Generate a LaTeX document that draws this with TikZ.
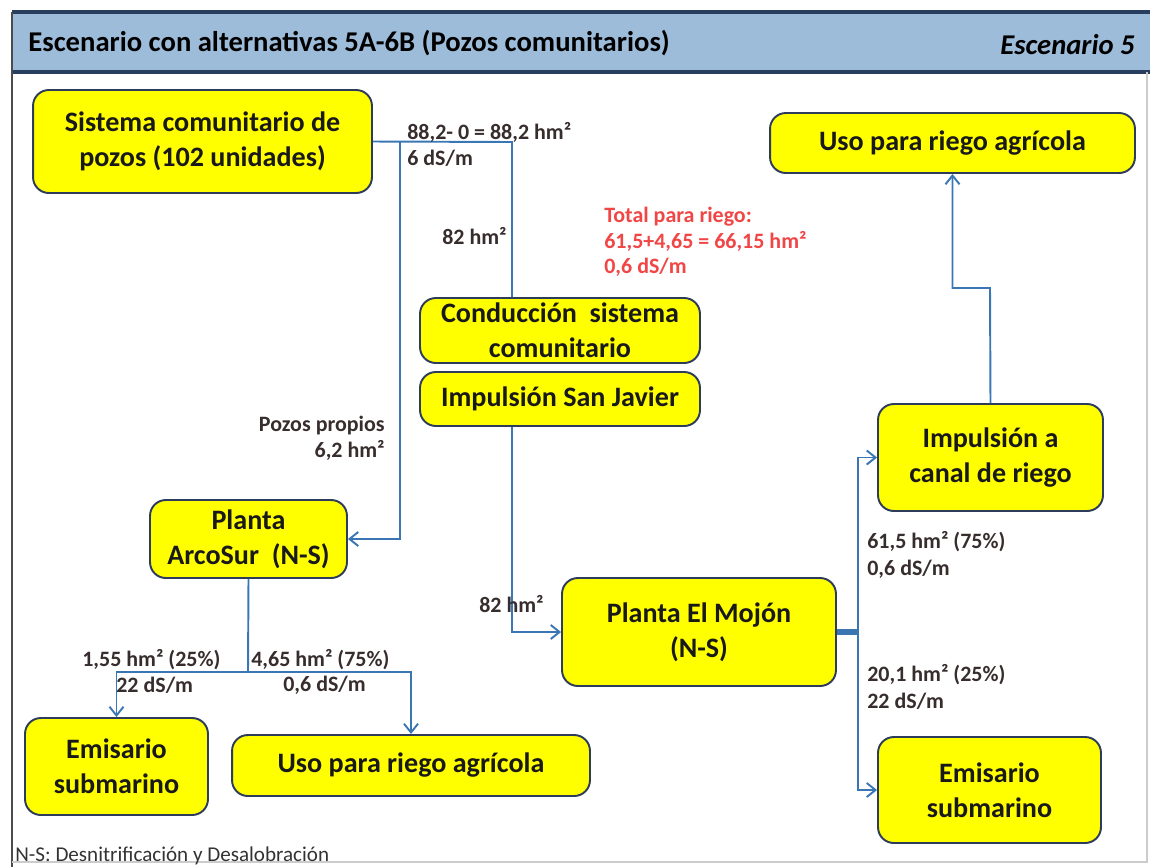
\documentclass[tikz,border=0pt]{standalone}
\usepackage{fontspec}
\setmainfont{Carlito}
\usetikzlibrary{arrows.meta}
\definecolor{amarillo}{RGB}{255,255,0}
\definecolor{borde}{RGB}{45,60,90}
\definecolor{flujo}{RGB}{58,118,180}
\definecolor{titulo}{RGB}{157,188,218}
\definecolor{tituloborde}{RGB}{40,62,95}
\definecolor{etiq}{RGB}{55,45,45}
\definecolor{rojo}{RGB}{240,70,70}
\tikzset{
  caja/.style={draw=borde, fill=amarillo, line width=1.1pt, rounded corners=9pt,
    align=center, inner sep=0pt, text=black!90,
    font=\bfseries\fontsize{16}{20}\selectfont},
  linea/.style={draw=flujo, line width=1.1pt},
  flecha/.style={linea, -{Straight Barb[length=5pt,width=8pt]}},
  dato/.style={inner sep=0pt, text=etiq, align=left, font=\bfseries\fontsize{12.5}{15}\selectfont}
}

\begin{document}
\begin{tikzpicture}[x=0.02cm, y=-0.02cm]
\useasboundingbox (0,0) rectangle (1150,867);
\fill[titulo] (12,12) rectangle (1150,72);
\draw[tituloborde, line width=2pt] (12,12) -- (1150,12);
\draw[tituloborde, line width=2pt] (12,72) -- (1150,72);
\draw[black!70, line width=1pt] (12,12) -- (12,867);
\draw[black!20, line width=0.6pt] (1147,72) -- (1147,862) -- (12,862);
\node[anchor=west, inner sep=0pt, font=\bfseries\fontsize{16.3}{19}\selectfont] (tit) at (28,43) {Escenario con alternativas 5A-6B (Pozos comunitarios)};
\node[anchor=east, inner sep=0pt, font=\bfseries\itshape\fontsize{16.3}{19}\selectfont] (esc) at (1135,45) {Escenario 5};

\node[caja, minimum width=6.78cm, minimum height=2.06cm] (sis) at (202.5,141.5) {Sistema comunitario de\\pozos (102 unidades)};
\node[caja, minimum width=7.3cm, minimum height=1.2cm] (usoA) at (952.5,143) {Uso para riego agrícola};
\node[caja, minimum width=5.6cm, minimum height=1.3cm] (cond) at (560,330.5) {Conducción \ sistema\\comunitario};
\node[caja, minimum width=5.6cm, minimum height=1.08cm] (impSJ) at (560,399) {Impulsión San Javier};
\node[caja, minimum width=3.94cm, minimum height=1.56cm] (arco) at (248.5,539) {Planta\\ArcoSur \ (N-S)};
\node[caja, minimum width=4.5cm, minimum height=2.14cm] (impC) at (990.5,457.5) {Impulsión a\\canal de riego};
\node[caja, minimum width=5.48cm, minimum height=2.16cm] (mojon) at (699,632) {Planta El Mojón\\(N-S)};
\node[caja, minimum width=3.66cm, minimum height=1.94cm] (emiA) at (116.5,766.5) {Emisario\\submarino};
\node[caja, minimum width=7.16cm, minimum height=1.22cm] (usoB) at (411,765.5) {Uso para riego agrícola};
\node[caja, minimum width=4.46cm, minimum height=2.12cm] (emiB) at (989.5,790) {Emisario\\submarino};

\coordinate (r1) at (512,142);
\coordinate (r2) at (400,142);
\coordinate (r3) at (858,632);
\coordinate (r4) at (990,288);
\coordinate (r5) at (248,672);
\draw[linea] (sis.east) -- (r1) -- (cond.north -| r1);
\draw[flecha] (r2) |- (arco.east);
\draw[flecha] (impSJ.south -| r1) |- (mojon.west);
\draw[draw=flujo, line width=3pt] (mojon.east) -- (r3);
\draw[flecha] (r3) |- (impC.west);
\draw[flecha] (r3) |- (emiB.west);
\draw[flecha] (impC.north) -- (r4) -| (usoA.south);
\draw[linea] (arco.south) -- (r5);
\draw[flecha] (r5) -| (emiA.north);
\draw[flecha] (r5) -| (usoB.north);

\node[dato, anchor=west] (d1) at (407,144.5) {88,2- 0 = 88,2 hm²\\6 dS/m};
\node[dato, anchor=west] (d2) at (442,236) {82 hm²};
\node[dato, anchor=west, text=rojo, font=\bfseries\fontsize{12.5}{14.5}\selectfont] (d3) at (604,242) {Total para riego:\\61,5+4,65 = 66,15 hm²\\0,6 dS/m};
\node[dato, anchor=east, align=right] (d4) at (385,438) {Pozos propios\\6,2 hm²};
\node[dato, anchor=west] (d5) at (82,660) {1,55 hm² (25\%)};
\node[dato, anchor=west] (d6) at (116,685) {22 dS/m};
\node[dato, anchor=west] (d7) at (251,660) {4,65 hm² (75\%)};
\node[dato, anchor=west] (d8) at (283,685) {0,6 dS/m};
\node[dato, anchor=west] (d9) at (479,604) {82 hm²};
\node[dato, anchor=west] (d10) at (867,555) {61,5 hm² (75\%)\\0,6 dS/m};
\node[dato, anchor=west] (d11) at (867,687) {20,1 hm² (25\%)\\22 dS/m};
\node[anchor=west, inner sep=0pt, text=black!80, font=\fontsize{12}{14}\selectfont] (nota) at (15,856) {N-S: Desnitrificación y Desalobración};
\end{tikzpicture}
\end{document}
